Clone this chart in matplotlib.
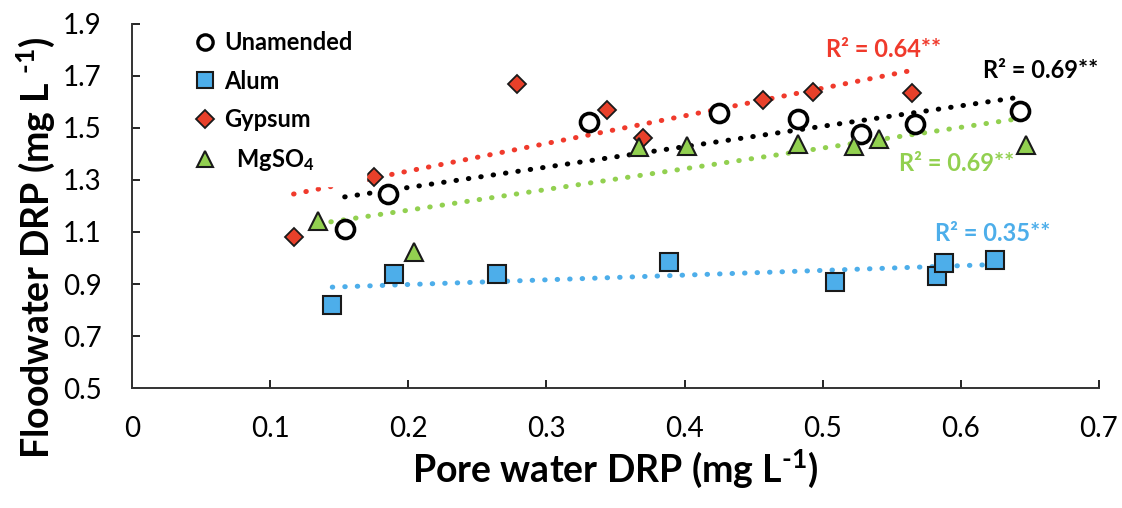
import matplotlib.pyplot as plt
from matplotlib.lines import Line2D

plt.rcParams['font.family'] = ['Lato', 'DejaVu Sans']
plt.rcParams['mathtext.fontset'] = 'custom'
plt.rcParams['mathtext.rm'] = 'Lato:bold'
plt.rcParams['mathtext.it'] = 'Lato:bold'
plt.rcParams['mathtext.bf'] = 'Lato:bold'

# data
unam_x = [0.154, 0.185, 0.331, 0.425, 0.482, 0.528, 0.567, 0.643]
unam_y = [1.11, 1.246, 1.523, 1.558, 1.535, 1.477, 1.515, 1.565]

alum_x = [0.145, 0.190, 0.264, 0.389, 0.509, 0.583, 0.588, 0.625]
alum_y = [0.819, 0.938, 0.938, 0.985, 0.908, 0.931, 0.981, 0.992]

gyp_x = [0.117, 0.175, 0.279, 0.344, 0.370, 0.457, 0.493, 0.565]
gyp_y = [1.08, 1.31, 1.669, 1.569, 1.46, 1.608, 1.638, 1.635]

mg_x = [0.135, 0.204, 0.367, 0.402, 0.482, 0.523, 0.541, 0.647]
mg_y = [1.142, 1.023, 1.427, 1.431, 1.438, 1.431, 1.458, 1.435]

# trendline end points (as drawn)
unam_fit_x, unam_fit_y = [0.154, 0.643], [1.235, 1.619]
alum_fit_x, alum_fit_y = [0.145, 0.625], [0.888, 0.975]
gyp_fit_x, gyp_fit_y = [0.117, 0.565], [1.246, 1.722]
mg_fit_x, mg_fit_y = [0.135, 0.647], [1.132, 1.540]

r2_labels = ['R\u00b2 = 0.69**', 'R\u00b2 = 0.35**', 'R\u00b2 = 0.64**', 'R\u00b2 = 0.69**']

red = '#E8402A'
redline = '#F03A2C'
blue = '#4DAEEA'
green = '#92D050'

fig = plt.figure(figsize=(11.22, 5.08), dpi=100)
ax = fig.add_axes([0.1176, 0.2362, 0.8619, 0.7166])

dot = (0, (0.1, 2.4))
ax.plot(gyp_fit_x, gyp_fit_y, color=redline, lw=3.6, ls=dot, dash_capstyle='round', zorder=2)
ax.plot(unam_fit_x, unam_fit_y, color='black', lw=3.6, ls=dot, dash_capstyle='round', zorder=2)
ax.plot(mg_fit_x, mg_fit_y, color=green, lw=3.6, ls=dot, dash_capstyle='round', zorder=2)
ax.plot(alum_fit_x, alum_fit_y, color=blue, lw=3.6, ls=dot, dash_capstyle='round', zorder=2)

ax.plot(unam_x, unam_y, 'o', ms=13, mfc='white', mec='black', mew=2.6, zorder=3)
ax.plot(alum_x, alum_y, 's', ms=12.5, mfc=blue, mec='#1a1a1a', mew=1.5, zorder=3)
ax.plot(gyp_x, gyp_y, 'D', ms=9.5, mfc=red, mec='#1a1a1a', mew=1.3, zorder=3)
ax.plot(mg_x, mg_y, '^', ms=13, mfc=green, mec='#1a1a1a', mew=1.5, zorder=3)

ax.text(0.544, 1.80, r2_labels[2], color=redline, fontsize=17, fontweight='bold', ha='center', va='center')
ax.text(0.658, 1.723, r2_labels[0], color='black', fontsize=17, fontweight='bold', ha='center', va='center')
ax.text(0.597, 1.365, r2_labels[3], color=green, fontsize=17, fontweight='bold', ha='center', va='center')
ax.text(0.623, 1.096, r2_labels[1], color=blue, fontsize=17, fontweight='bold', ha='center', va='center')

handles = [
    Line2D([], [], ls='none', marker='o', ms=11, mfc='white', mec='black', mew=2.4),
    Line2D([], [], ls='none', marker='s', ms=11, mfc=blue, mec='#1a1a1a', mew=1.5),
    Line2D([], [], ls='none', marker='D', ms=9, mfc=red, mec='#1a1a1a', mew=1.3),
    Line2D([], [], ls='none', marker='^', ms=12, mfc=green, mec='#1a1a1a', mew=1.5),
]
labels = ['Unamended', 'Alum', 'Gypsum', r'  MgSO$_4$']
leg = ax.legend(handles, labels, loc='upper left', bbox_to_anchor=(0.047, 1.016),
                frameon=True, fancybox=False, edgecolor='white', facecolor='white', framealpha=1,
                prop={'weight': 'bold', 'size': 17}, handletextpad=0.25, labelspacing=0.66,
                handlelength=1.2, borderpad=0.55, borderaxespad=0)
leg.set_zorder(5)

ax.set_xlim(0, 0.7)
ax.set_ylim(0.5, 1.9)
ax.set_xticks([0, 0.1, 0.2, 0.3, 0.4, 0.5, 0.6, 0.7])
ax.set_xticklabels(['0', '0.1', '0.2', '0.3', '0.4', '0.5', '0.6', '0.7'])
ax.set_yticks([0.5, 0.7, 0.9, 1.1, 1.3, 1.5, 1.7, 1.9])
ax.set_yticklabels(['0.5', '0.7', '0.9', '1.1', '1.3', '1.5', '1.7', '1.9'])
ax.tick_params(direction='in', length=6, width=1.2, labelsize=20, pad=20)
ax.tick_params(axis='y', pad=22)
for s in ['top', 'right']:
    ax.spines[s].set_visible(False)
for s in ['left', 'bottom']:
    ax.spines[s].set_linewidth(1.4)
    ax.spines[s].set_color('#333333')

ax.set_xlabel(r'Pore water DRP (mg L$^{\text{-1}}$)', fontsize=27, fontweight='bold', labelpad=4)
ax.set_ylabel(r'Floodwater DRP (mg L $^{\text{-1}}$)', fontsize=27, fontweight='bold')
ax.yaxis.set_label_coords(-0.078, 0.385)

fig.savefig('out.png', dpi=100)
